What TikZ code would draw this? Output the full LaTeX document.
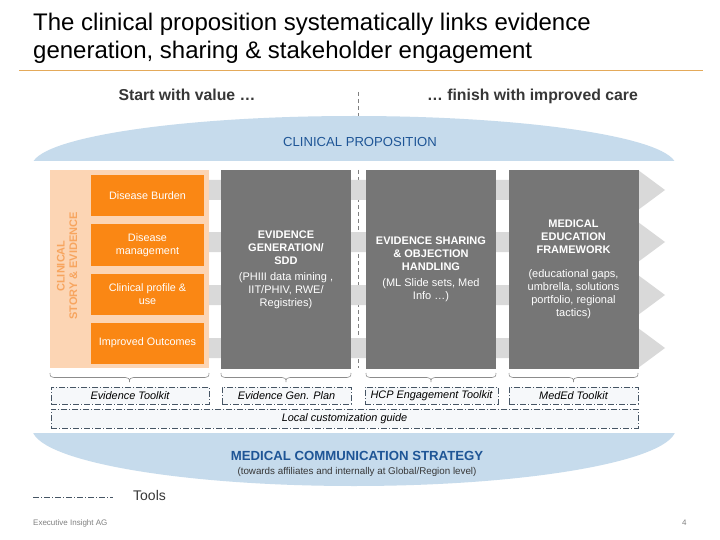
\documentclass[tikz,border=0pt]{standalone}
\usepackage{fontspec}
\setmainfont{Liberation Sans}
\definecolor{orangebox}{RGB}{250,135,20}
\definecolor{orangepanel}{RGB}{252,213,180}
\definecolor{orangetext}{RGB}{247,165,95}
\definecolor{darkbox}{RGB}{118,118,118}
\definecolor{bandgray}{RGB}{217,217,217}
\definecolor{blueshape}{RGB}{198,219,236}
\definecolor{bluetext}{RGB}{30,85,150}
\definecolor{toolfill}{RGB}{246,248,250}
\definecolor{toolline}{RGB}{70,85,100}
\definecolor{rulecol}{RGB}{228,170,90}
\definecolor{subtext}{RGB}{55,55,55}
\definecolor{bracecol}{RGB}{140,140,140}
\newcommand{\hdl}[1]{{\fontsize{11}{13}\selectfont\bfseries #1}}
\tikzset{
  obox/.style={fill=orangebox, text=white, inner sep=0pt, minimum width=113pt, minimum height=41pt, align=center, font=\fontsize{10.8}{13.5}\selectfont},
  gbox/.style={fill=darkbox, text=white, inner sep=0pt, minimum width=130pt, minimum height=199pt, align=center, font=\fontsize{11}{13}\selectfont},
  tbox/.style={draw=toolline, fill=toolfill, line width=0.6pt, dash pattern=on 6pt off 2pt on 1pt off 2pt, inner sep=0pt, minimum height=17pt, font=\fontsize{10.9}{12}\selectfont\itshape},
  tline/.style={draw=toolline, line width=0.6pt, dash pattern=on 6pt off 2pt on 1pt off 2pt},
  bracestyle/.style={draw=bracecol, line width=0.6pt},
  centerdash/.style={draw=gray, line width=0.5pt, dash pattern=on 4pt off 3pt}
}
\begin{document}
\begin{tikzpicture}[x=1pt,y=-1pt]
\useasboundingbox (0,0) rectangle (720,540);
\fill[white] (0,0) rectangle (720,540);

% title
\node[anchor=base west, inner sep=0pt, font=\fontsize{24}{28}\selectfont] (title1) at (33,31) {The clinical proposition systematically links evidence};
\node[anchor=base west, inner sep=0pt, font=\fontsize{24}{28}\selectfont] (title2) at (33,59) {generation, sharing \& stakeholder engagement};
\coordinate (ruleL) at (19,71);
\coordinate (ruleR) at (703,71);
\draw[rulecol, line width=1pt] (ruleL) -- (ruleR);

% start / finish
\node[anchor=base, inner sep=0pt, text=subtext, font=\fontsize{15.8}{18}\selectfont\bfseries] (start) at (187,101) {Start with value \dots};
\node[anchor=base, inner sep=0pt, text=subtext, font=\fontsize{15.8}{18}\selectfont\bfseries] (finish) at (532.5,101) {\dots{} finish with improved care};
\coordinate (dashA) at (358,92);
\coordinate (dashB) at (358,117);
\draw[centerdash] (dashA) -- (dashB);

% top blue shape
\begin{scope}
\clip (0,0) rectangle (720,160.5);
\fill[blueshape] (354,166) ellipse [x radius=322pt, y radius=50pt];
\end{scope}
\node[text=bluetext, font=\fontsize{13.1}{15}\selectfont, inner sep=0pt] (clinprop) at (360,142) {CLINICAL PROPOSITION};

% center dashed line in main area
\coordinate (dashC) at (358,170);
\coordinate (dashD) at (358,368);
\draw[centerdash] (dashC) -- (dashD);

% gray arrow bands
\foreach \c in {190,242,295,348}{
  \fill[bandgray] (205,{\c-10}) -- (638,{\c-10}) -- (638,{\c-20}) -- (665,\c) -- (638,{\c+20}) -- (638,{\c+10}) -- (205,{\c+10}) -- cycle;
}

% left orange panel
\node[fill=orangepanel, inner sep=0pt, minimum width=159pt, minimum height=198pt, anchor=north west] (panel) at (50,170) {};
\node[rotate=90, text=orangetext, align=center, font=\fontsize{11}{12.5}\selectfont\bfseries, inner sep=0pt] (story) at (67,266) {CLINICAL\\STORY \& EVIDENCE};
\node[obox] (burden) at (147.5,195.5) {Disease Burden};
\node[obox] (mgmt) at (147.5,245) {Disease\\management};
\node[obox] (profile) at (147.5,294) {Clinical profile \&\\use};
\node[obox] (outcomes) at (147.5,343) {Improved Outcomes};

% dark boxes
\node[gbox] (evgen) at (286,269.5) {\hdl{EVIDENCE}\\\hdl{GENERATION/}\\\hdl{SDD}\\[3pt](PHIII data mining ,\\IIT/PHIV, RWE/\\Registries)};
\node[gbox] (evshare) at (431,269.5) {\hdl{EVIDENCE SHARING}\\\hdl{\& OBJECTION}\\\hdl{HANDLING}\\[3pt](ML Slide sets, Med\\Info \dots)};
\node[gbox] (meded) at (573.5,269.5) {\hdl{MEDICAL}\\\hdl{EDUCATION}\\\hdl{FRAMEWORK}\\[11pt](educational gaps,\\umbrella, solutions\\portfolio, regional\\tactics)};

% braces (drawn as curves)
\foreach \a/\b in {50/209, 221/351, 366/496, 509/638}{
  \pgfmathsetmacro{\m}{(\a+\b)/2}
  \draw[bracestyle] (\a,373) .. controls (\a,376.5) and (\a+1,377.5) .. (\a+4,377.5)
     -- (\m-4,377.5) .. controls (\m-1,377.5) and (\m,378.5) .. (\m,382)
     .. controls (\m,378.5) and (\m+1,377.5) .. (\m+4,377.5)
     -- (\b-4,377.5) .. controls (\b-1,377.5) and (\b,376.5) .. (\b,373);
}

% tool boxes
\node[tbox, minimum width=158pt] (tk1) at (130,395.5) {Evidence Toolkit};
\node[tbox, minimum width=129pt] (tk2) at (286.5,395.5) {Evidence Gen. Plan};
\node[tbox, minimum width=133pt] (tk3) at (431.5,395.5) {HCP Engagement Toolkit};
\node[tbox, minimum width=129pt] (tk4) at (573.5,395.5) {MedEd Toolkit};
\node[tbox, minimum width=587pt, minimum height=19pt] (local) at (344.5,418.5) {Local customization guide};

% bottom blue shape
\begin{scope}
\clip (0,433) rectangle (720,540);
\fill[blueshape] (354,428) ellipse [x radius=322pt, y radius=58pt];
\end{scope}
\node[anchor=base, inner sep=0pt, text=bluetext, font=\fontsize{13.2}{15}\selectfont\bfseries] (mcs) at (357,460) {MEDICAL COMMUNICATION STRATEGY};
\node[anchor=base, inner sep=0pt, text=subtext, font=\fontsize{9.8}{11}\selectfont] (mcssub) at (357,474) {(towards affiliates and internally at Global/Region level)};

% legend
\coordinate (legA) at (33,497);
\coordinate (legB) at (113,497);
\draw[tline] (legA) -- (legB);
\node[anchor=base west, inner sep=0pt, font=\fontsize{14}{16}\selectfont, text=subtext] (tools) at (133,500) {Tools};

% footer
\node[anchor=base west, inner sep=0pt, font=\fontsize{8}{9}\selectfont, text=gray] (footer) at (33,525) {Executive Insight AG};
\node[anchor=base west, inner sep=0pt, font=\fontsize{8}{9}\selectfont, text=gray] (pagenum) at (682,525) {4};
\end{tikzpicture}
\end{document}
